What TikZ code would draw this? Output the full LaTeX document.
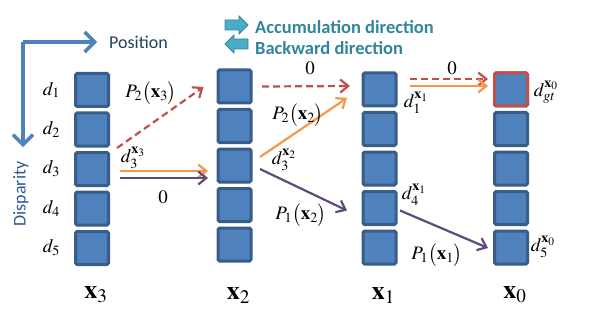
\documentclass[tikz,border=0pt]{standalone}
\usepackage{mathptmx}
\usepackage{fontspec}
\setmainfont{Liberation Serif}
\setsansfont{Carlito}
\usetikzlibrary{positioning, arrows.meta, calc}

\definecolor{cellfill}{HTML}{4F81BD}
\definecolor{cellline}{HTML}{385D8A}
\definecolor{backred}{HTML}{C0504D}
\definecolor{accorange}{HTML}{F79646}
\definecolor{costpurple}{HTML}{604A7B}
\definecolor{axisblue}{HTML}{4F81BD}
\definecolor{axistext}{HTML}{243F60}
\definecolor{disptext}{HTML}{2E5A98}
\definecolor{legteal}{HTML}{4BACC6}
\definecolor{legtext}{HTML}{31859C}

\tikzset{
  cell/.style={draw=cellline, fill=cellfill, line width=3pt, minimum size=33pt, inner sep=0pt, rounded corners=1.5pt},
  mlabel/.style={font=\fontsize{19}{21}\selectfont, inner sep=1pt},
  collabel/.style={font=\fontsize{26}{28}\selectfont, inner sep=1pt},
  axislabel/.style={font=\sffamily\fontsize{18}{20}\selectfont, inner sep=1pt},
  legtextstyle/.style={font=\sffamily\bfseries\fontsize{18.5}{20}\selectfont, text=legtext, inner sep=1pt, anchor=west},
  link/.style={line width=2.2pt, -{Straight Barb[length=8pt,width=13pt]}},
  backlink/.style={link, backred, dash pattern=on 7pt off 4pt},
  acclink/.style={link, accorange},
  costlink/.style={link, costpurple},
  axisarrow/.style={axisblue, line width=3.5pt, -{Straight Barb[length=10pt,width=20pt]}},
  legarrow/.style={fill=legteal, draw=legtext, line width=0.8pt, line join=miter}
}

\begin{document}
\begin{tikzpicture}[x=1pt, y=-1pt]
  \useasboundingbox (0,0) rectangle (603,313);

  % position / disparity axes
  \coordinate (origin) at (23,42);
  \coordinate (posend) at (97,42);
  \coordinate (dispend) at (23,147);
  \draw[axisarrow] (origin) -- (posend);
  \draw[axisarrow] (origin) -- (dispend);
  \node[axislabel, text=axistext, anchor=west] (position) at (108,42) {Position};
  \node[axislabel, text=disptext, rotate=90] (disparity) at (21,194) {Disparity};

  % legend
  \draw[legarrow] (225,20) -- (239,20) -- (239,16) -- (248,25) -- (239,34) -- (239,30) -- (225,30) -- cycle;
  \draw[legarrow] (248,39) -- (234,39) -- (234,35) -- (225,44) -- (234,53) -- (234,49) -- (248,49) -- cycle;
  \node[legtextstyle] (acclabel) at (254,27) {Accumulation direction};
  \node[legtextstyle] (backlabel) at (254,48) {Backward direction};

  % columns of disparity cells
  \foreach \col/\cx/\cy in {3/92/90, 2/234.5/86.5, 1/379.5/89.5, 0/511/89.5} {
    \foreach \r in {1,...,5}
      \node[cell] (c\col r\r) at (\cx, {\cy+39.5*(\r-1)}) {};
    \node[collabel] (x\col) at (\cx+4, 295) {$\mathbf{x}_{\col}$};
  }
  \node[cell, draw=backred] (gtcell) at (c0r1) {};

  % disparity labels
  \foreach \r in {1,...,5}
    \node[mlabel, left=13pt of c3r\r] (d\r) {$d_{\r}$};

  % x3 -> x2
  \draw[backlink] ([shift={(7,-21)}]c3r3.east) -- ([shift={(-13,0.5)}]c2r1.west);
  \draw[acclink] ([shift={(10,2)}]c3r3.east) -- ([shift={(-8.5,5.5)}]c2r3.west);
  \draw[costlink] ([shift={(10,9)}]c3r3.east) -- ([shift={(-8.5,12.5)}]c2r3.west);
  \node[mlabel] (p2x3) at (151,93) {$P_2\bigl(\mathbf{x}_3\bigr)$};
  \node[mlabel] (d3x3) at (133,158) {$d_3^{\mathbf{x}_3}$};
  \node[mlabel] (zeroa) at (163,197) {$0$};

  % x2 -> x1
  \draw[backlink] ([shift={(9.5,0)}]c2r1.east) -- ([shift={(-11.5,-3.5)}]c1r1.west);
  \draw[acclink] ([shift={(7.5,-8.5)}]c2r3.east) -- ([shift={(-14.5,8.5)}]c1r1.west);
  \draw[costlink] ([shift={(7.5,3.5)}]c2r3.east) -- ([shift={(-14.5,2.5)}]c1r4.west);
  \node[mlabel] (zerob) at (310,68) {$0$};
  \node[mlabel] (p2x2) at (298,115) {$P_2\bigl(\mathbf{x}_2\bigr)$};
  \node[mlabel] (d3x2) at (284,160) {$d_3^{\mathbf{x}_2}$};
  \node[mlabel] (p1x2) at (301,215) {$P_1\bigl(\mathbf{x}_2\bigr)$};

  % x1 -> x0
  \draw[backlink] ([shift={(12.5,-10.5)}]c1r1.east) -- ([shift={(-5,-10.5)}]c0r1.west);
  \draw[acclink] ([shift={(12.5,-3.5)}]c1r1.east) -- ([shift={(-5,-3.5)}]c0r1.west);
  \draw[costlink] ([shift={(2.5,2.5)}]c1r4.east) -- ([shift={(-5,0.5)}]c0r5.west);
  \node[mlabel] (zeroc) at (452,68) {$0$};
  \node[mlabel] (d1x1) at (416,103) {$d_1^{\mathbf{x}_1}$};
  \node[mlabel] (d4x1) at (414,195) {$d_4^{\mathbf{x}_1}$};
  \node[mlabel] (p1x1) at (437,255) {$P_1\bigl(\mathbf{x}_1\bigr)$};
  \node[mlabel] (dgtx0) at (546,92) {$d_{gt}^{\mathbf{x}_0}$};
  \node[mlabel] (d5x0) at (543,247) {$d_5^{\mathbf{x}_0}$};
\end{tikzpicture}
\end{document}
